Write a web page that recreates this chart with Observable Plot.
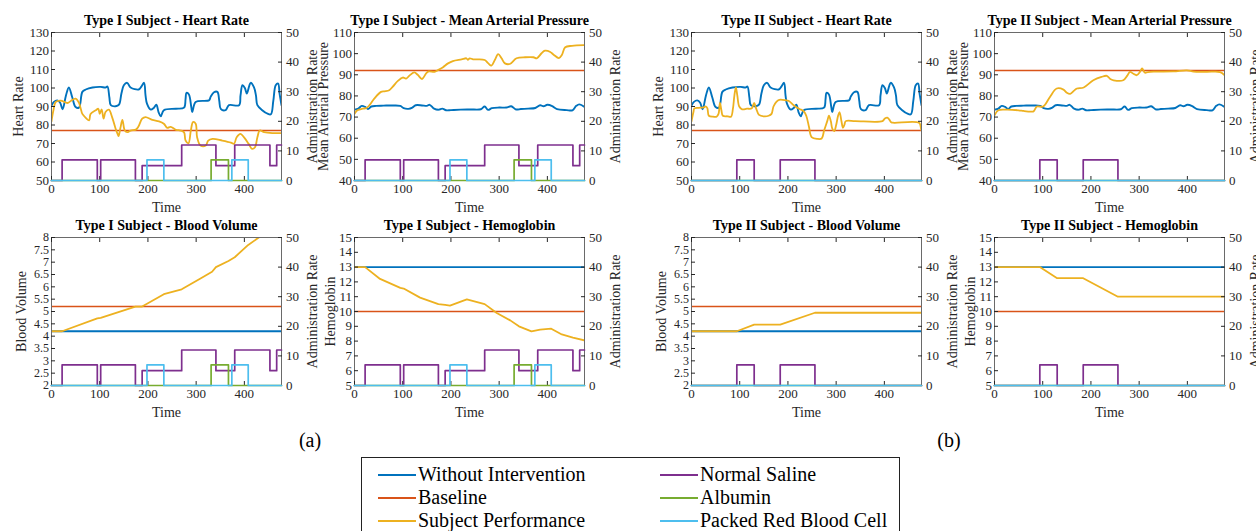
<!DOCTYPE html>
<html>
<head>
<meta charset="utf-8">
<script src="https://cdn.jsdelivr.net/npm/d3@7"></script>
<script src="https://cdn.jsdelivr.net/npm/@observablehq/plot@0.6"></script>
<style>
html,body{margin:0;padding:0;background:#fff;overflow:hidden;}
#root{position:relative;width:1256px;height:531px;overflow:hidden;background:#fff;font-family:"Liberation Serif","Times New Roman",serif;color:#000;}
.panel{position:absolute;}
.panel svg{position:absolute;left:0;top:0;font-family:"Liberation Serif","Times New Roman",serif !important;}
.sub{position:absolute;font-size:20px;line-height:22px;transform:translate(-50%,-50%);}
#legend{position:absolute;left:361px;top:457px;width:539px;height:90px;border:1px solid #222;box-sizing:border-box;}
.li{position:absolute;font-size:20px;line-height:22px;height:22px;white-space:nowrap;}
.li .sw{display:inline-block;width:38px;height:2px;vertical-align:middle;margin-right:2px;position:relative;top:-1px;}
</style>
</head>
<body>
<div id="root"></div>
<script>
// ---------------- DATA ----------------
const T_MAX = 477;
const timeTicks = [0, 100, 200, 300, 400];
const rateTicks = [0, 10, 20, 30, 40, 50];
const hrTicks = [50, 60, 70, 80, 90, 100, 110, 120, 130];
const mapTicks = [40, 50, 60, 70, 80, 90, 100, 110];
const bvTicks = [2, 2.5, 3, 3.5, 4, 4.5, 5, 5.5, 6, 6.5, 7, 7.5, 8];
const hbTicks = [5, 6, 7, 8, 9, 10, 11, 12, 13, 14, 15];

const hrBaseline = 77;
const mapBaseline = 92;
const bvBaseline = 5.2;
const hbBaseline = 10;

// Without intervention
const hrWithout = [[0,90.5],[5,92.5],[12,93.3],[18,92],[23,88.5],[30,96],[36,100.3],[43,95],[50,89.7],[57,89.4],[64,97.9],[71,99.2],[85,100.3],[102,100.6],[112,100.3],[116,100.8],[120,95],[123,90.7],[133,90.1],[140,91],[145,97],[150,101.5],[157,102.8],[164,100.3],[181,99.2],[187,101],[192,102.8],[195,96],[198,91.6],[206,88.3],[212,89.2],[217.5,91],[222,87],[226.5,84.7],[233,88],[258,88.8],[275,89.4],[278,94],[280,97.4],[285,96.5],[290,89.5],[292,87],[299,92.4],[327,93.4],[330,95.2],[337,97.7],[344,97.9],[348,93],[351,88.7],[361,88],[368,90.7],[389,90.7],[392,96],[396,101.5],[401,100],[405,97],[410,101],[413,102.8],[420,100.3],[424,96],[427,90.7],[437,88],[448,86.1],[455,85.8],[460,93],[465,101.5],[470,102.4],[473,97],[477,90.7]];
const mapWithout = [[0,73.5],[8,74],[15,75.3],[22,74.8],[28,73.8],[35,75],[45,75.3],[60,75.4],[80,75.5],[95,75.3],[102,74.2],[112,73.9],[120,74.5],[127,75.6],[140,75.5],[150,75.3],[156,75.8],[165,74],[175,73.5],[182,74],[190,73.2],[200,73.3],[220,73.5],[240,73.6],[262,73.7],[270,75],[277,73.4],[285,74.2],[300,74.5],[315,74.5],[325,75.1],[335,73.6],[345,73.8],[360,74],[375,74.3],[385,75.6],[392,75.1],[400,75.8],[410,75.2],[420,73.8],[440,73.3],[452,73.2],[460,75.3],[466,76],[477,74.8]];
const bvWithout = [[0,4.2],[477,4.2]];
const hbWithout = [[0,13],[477,13]];

// Subject performance, Type I
const hrType1 = [[0,82],[4,88],[9,92.5],[19,93.2],[33,91.9],[40,93],[50,94.3],[57,92],[61,88.5],[64,86],[71,83.9],[78,82.5],[81,86],[92,88],[97,88.8],[100,86],[104,88.5],[108,83.4],[112,87],[119,88.3],[126,84],[133,78],[137,75.2],[139,74],[143,78.5],[147,82.8],[152,77],[157,76.1],[164,77],[175,77.5],[180,79],[188,83.4],[195,84.3],[209,82.8],[223,82],[233,80.7],[240,78.5],[247,79],[258,77.4],[268,77],[275,76],[278,71.6],[284,70.1],[289,77],[293.5,81.6],[299,80.7],[302,73.4],[309,68.9],[320,68.9],[325,71.6],[334,72.5],[354,71.6],[372,70.5],[378.5,69.8],[384,73.4],[392,75.2],[399,73.4],[409,69.8],[416,67.1],[422,68],[427,73.4],[432,77],[441,76.1],[458,75.6],[477,75.6]];
const mapType1 = [[0,71.5],[6,73.2],[17,74],[24,74.2],[31,75.6],[41,78.7],[55,81.9],[62,82.2],[72,82.7],[79,84.3],[90,87.1],[100,88.7],[107,88.2],[114,89.6],[124,91.1],[131,90],[140,88],[149,90.8],[154,91.6],[166,91.4],[173,92.2],[183,93.5],[194,95.4],[204,96.5],[222,97.3],[232,97.8],[235,97.1],[239,97.8],[246,97.3],[256,97.3],[270,97],[277,95.5],[284,94.3],[291,97],[298,99.8],[305,97.8],[312,95.4],[322,95.1],[336,97.8],[354,98.3],[371,98.3],[378,97.8],[388,100.2],[395,101.4],[406,100.8],[413,99.5],[424,97.9],[430,99.3],[437,103],[451,103.7],[477,104]];
const bvType1 = [[0,4.2],[22,4.2],[95,4.72],[102,4.74],[174,5.2],[188,5.2],[233,5.7],[270,5.9],[309,6.34],[333,6.61],[341,6.8],[367,7.05],[380,7.2],[408,7.7],[430,8.0],[453,8.3],[467,8.45],[477,8.6]];
const hbType1 = [[0,13],[22,13],[53,12.2],[95,11.6],[102,11.55],[136,10.94],[174,10.5],[188,10.45],[198,10.4],[233,10.82],[270,10.5],[295,9.9],[323,9.4],[341,9.0],[367,8.66],[385,8.77],[408,8.84],[430,8.45],[453,8.23],[477,8.05]];

// Subject performance, Type II
const hrType2 = [[0,82],[4,87],[6,89],[15,89.3],[25,89.5],[30,90],[33,89],[36,85],[45,84.5],[52,84.5],[56,86],[59,91.9],[62,88],[65,85],[75,84.7],[82,84.5],[86,89],[89,96],[92,100.3],[95,96],[99,90],[105,88.5],[115,88.8],[125,89],[130,92],[134,89],[140,85.5],[150,84.7],[160,85],[166,86],[170,90],[176,92.5],[182,93.6],[195,93.4],[202,93],[212,90.7],[223,88.8],[233,87.4],[238,85],[243.7,78.9],[249,73.5],[261,72.5],[270,72.7],[275,77],[282,82.5],[285,85],[289,82],[292,78],[296,76.7],[300,80],[304,85],[307,87],[311,82],[314,78.5],[317,80],[320,82.1],[340,82.1],[396,82.1],[401,83.5],[406,84],[410,83],[414,81.5],[420,81.2],[472,81.2],[476,78],[477,77]];
const mapType2 = [[0,70.8],[8,73.2],[25,73.5],[50,73.2],[60,72.9],[75,72.6],[81,72.7],[88,75],[101,75],[115,79.5],[129,83.5],[143,83],[150,81.5],[157,81],[165,82.5],[171,83.5],[185,84],[205,87.4],[222,89],[233,89.5],[240,88],[247,87.4],[267,87.4],[275,89.5],[281,91.4],[288,90.5],[295,89.8],[302,91.5],[306,93],[312,91],[318,91.3],[330,91.5],[371,91.6],[399,92.1],[413,91.5],[440,91.4],[468,91.3],[477,89.8]];
const bvType2 = [[0,4.2],[94,4.2],[130,4.47],[184,4.47],[256,4.95],[477,4.95]];
const hbType2 = [[0,13],[94,13],[130,12.25],[184,12.25],[256,11],[477,11]];

// Administration rates (step changes)
const salineType1 = [[0,0],[22,7],[95,0],[102,7],[174,0],[188,5],[270,12],[341,5],[380,12],[453,5],[467,12],[477,12]];
const albuminType1 = [[0,0],[331,7],[367,0],[477,0]];
const prbcType1 = [[0,0],[198,7],[233,0],[374,7],[408,0],[477,0]];
const salineType2 = [[0,0],[94,7],[130,0],[184,7],[256,0],[477,0]];
const albuminType2 = [[0,0],[477,0]];
const prbcType2 = [[0,0],[477,0]];

const legendLeft = ["Without Intervention", "Baseline", "Subject Performance"];
const legendRight = ["Normal Saline", "Albumin", "Packed Red Blood Cell"];

// ---------------- DRAWING ----------------
const C = {blue:"#0072BD", red:"#D95319", yellow:"#EDB120", purple:"#7E2F8E", green:"#77AC30", cyan:"#4DBEEE"};
const FONT = "Liberation Serif";
const FW = 230, FH = 148;
const M = {l: 60, r: 60, t: 34, b: 40};
const root = document.getElementById("root");

const type1Admin = {saline: salineType1, albumin: albuminType1, prbc: prbcType1};
const type2Admin = {saline: salineType2, albumin: albuminType2, prbc: prbcType2};

const panels = [
  {left:50.5, top:32, title:"Type I Subject - Heart Rate", yDomain:[50,130], yTicks:hrTicks, tickFont:13, yLabel:"Heart Rate", yOff:38, without:hrWithout, baseline:hrBaseline, subject:hrType1, curve:"catmull-rom", admin:type1Admin},
  {left:354, top:32, title:"Type I Subject - Mean Arterial Pressure", yDomain:[40,110], yTicks:mapTicks, tickFont:13, yLabel:"Mean Arterial Pressure", yOff:36, without:mapWithout, baseline:mapBaseline, subject:mapType1, curve:"catmull-rom", admin:type1Admin},
  {left:50.5, top:237, title:"Type I Subject - Blood Volume", yDomain:[2,8], yTicks:bvTicks, tickFont:12, yLabel:"Blood Volume", yOff:35, without:bvWithout, baseline:bvBaseline, subject:bvType1, curve:"linear", admin:type1Admin},
  {left:354, top:237, title:"Type I Subject - Hemoglobin", yDomain:[5,15], yTicks:hbTicks, tickFont:13, yLabel:"Hemoglobin", yOff:29, without:hbWithout, baseline:hbBaseline, subject:hbType1, curve:"linear", admin:type1Admin},
  {left:690.5, top:32, title:"Type II Subject - Heart Rate", yDomain:[50,130], yTicks:hrTicks, tickFont:13, yLabel:"Heart Rate", yOff:38, without:hrWithout, baseline:hrBaseline, subject:hrType2, curve:"catmull-rom", admin:type2Admin},
  {left:994, top:32, title:"Type II Subject - Mean Arterial Pressure", yDomain:[40,110], yTicks:mapTicks, tickFont:13, yLabel:"Mean Arterial Pressure", yOff:36, without:mapWithout, baseline:mapBaseline, subject:mapType2, curve:"catmull-rom", admin:type2Admin},
  {left:690.5, top:237, title:"Type II Subject - Blood Volume", yDomain:[2,8], yTicks:bvTicks, tickFont:12, yLabel:"Blood Volume", yOff:35, without:bvWithout, baseline:bvBaseline, subject:bvType2, curve:"linear", admin:type2Admin},
  {left:994, top:237, title:"Type II Subject - Hemoglobin", yDomain:[5,15], yTicks:hbTicks, tickFont:13, yLabel:"Hemoglobin", yOff:29, without:hbWithout, baseline:hbBaseline, subject:hbType2, curve:"linear", admin:type2Admin}
];

function common() {
  return {
    width: FW + M.l + M.r, height: FH + M.t + M.b,
    marginLeft: M.l, marginRight: M.r, marginTop: M.t, marginBottom: M.b,
    style: {background: "transparent", fontFamily: FONT, fontSize: "13px", color: "#262626", maxWidth: "none", overflow: "visible"}
  };
}
const X = d => d[0], Y = d => d[1];
const fmt = d => String(d);

for (const p of panels) {
  const div = document.createElement("div");
  div.className = "panel";
  div.style.left = (p.left - M.l) + "px";
  div.style.top = (p.top - M.t) + "px";
  div.style.width = (FW + M.l + M.r) + "px";
  div.style.height = (FH + M.t + M.b) + "px";

  const primary = Plot.plot({
    ...common(),
    x: {domain: [0, T_MAX]},
    y: {domain: p.yDomain},
    marks: [
      Plot.line(p.without, {x: X, y: Y, stroke: C.blue, strokeWidth: 1.9, curve: p.curve, clip: true}),
      Plot.ruleY([p.baseline], {stroke: C.red, strokeWidth: 1.6}),
      Plot.line(p.subject, {x: X, y: Y, stroke: C.yellow, strokeWidth: 1.8, curve: p.curve, clip: true}),
      Plot.frame({stroke: "#6a6a6a", strokeWidth: 1}),
      Plot.axisX({anchor: "bottom", ticks: timeTicks, tickSize: -4, tickPadding: 7, tickFormat: fmt, label: null, fontFamily: FONT, fontSize: 13}),
      Plot.axisX({anchor: "top", ticks: timeTicks, tickSize: -4, tickFormat: () => "", label: null}),
      Plot.axisY({anchor: "left", ticks: p.yTicks, tickSize: -4, tickPadding: 6.5, tickFormat: fmt, label: null, fontFamily: FONT, fontSize: p.tickFont}),
      Plot.text([p.title], {text: d => d, frameAnchor: "top", textAnchor: "middle", dy: -11.5, lineAnchor: "middle", fontWeight: "bold", fontSize: 14, fontFamily: FONT, fill: "#000"}),
      Plot.text(["Time"], {text: d => d, frameAnchor: "bottom", textAnchor: "middle", dy: 27, lineAnchor: "middle", fontSize: 14, fontFamily: FONT}),
      Plot.text([p.yLabel], {text: d => d, frameAnchor: "left", textAnchor: "middle", rotate: -90, dx: -p.yOff, lineAnchor: "top", fontSize: 14, fontFamily: FONT})
    ]
  });

  const admin = Plot.plot({
    ...common(),
    x: {domain: [0, T_MAX], axis: null},
    y: {domain: [0, 50]},
    marks: [
      Plot.axisY({anchor: "right", ticks: rateTicks, tickSize: -4, tickPadding: 8.5, tickFormat: fmt, label: null, fontFamily: FONT, fontSize: 13}),
      Plot.line(p.admin.saline, {x: X, y: Y, curve: "step-after", stroke: C.purple, strokeWidth: 1.7}),
      Plot.line(p.admin.albumin, {x: X, y: Y, curve: "step-after", stroke: C.green, strokeWidth: 1.7}),
      Plot.line(p.admin.prbc, {x: X, y: Y, curve: "step-after", stroke: C.cyan, strokeWidth: 1.7}),
      Plot.text(["Administration Rate"], {text: d => d, frameAnchor: "right", textAnchor: "middle", rotate: -90, dx: 35, lineAnchor: "bottom", fontSize: 14, fontFamily: FONT})
    ]
  });

  div.appendChild(primary);
  div.appendChild(admin);
  root.appendChild(div);
}

// sub-figure labels
for (const [txt, x] of [["(a)", 310], ["(b)", 949]]) {
  const s = document.createElement("div");
  s.className = "sub";
  s.style.left = x + "px";
  s.style.top = "440px";
  s.textContent = txt;
  root.appendChild(s);
}

// legend
const legend = document.createElement("div");
legend.id = "legend";
const legendColors = [[C.blue, C.red, C.yellow], [C.purple, C.green, C.cyan]];
[legendLeft, legendRight].forEach((col, ci) => {
  col.forEach((name, ri) => {
    const it = document.createElement("div");
    it.className = "li";
    it.style.left = (ci === 0 ? 16 : 298) + "px";
    it.style.top = (5 + ri * 23) + "px";
    const sw = document.createElement("span");
    sw.className = "sw";
    sw.style.background = legendColors[ci][ri];
    it.appendChild(sw);
    it.appendChild(document.createTextNode(name));
    legend.appendChild(it);
  });
});
root.appendChild(legend);
</script>
</body>
</html>
